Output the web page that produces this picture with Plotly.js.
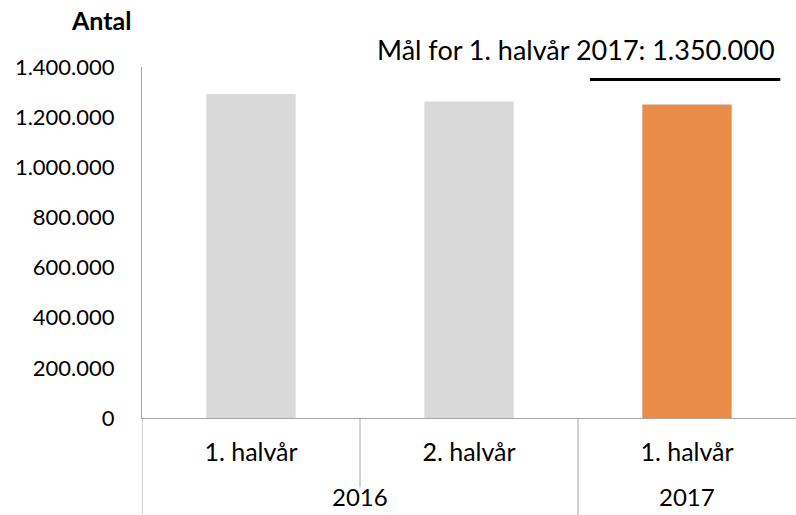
<!DOCTYPE html>
<html><head><meta charset="utf-8">
<script src="https://cdn.plot.ly/plotly-3.0.1.min.js"></script>
<style>html,body{margin:0;padding:0;background:#fff}</style>
</head><body>
<div id="chart" style="width:796px;height:515px"></div>
<script>
const years = ["2016", "2016", "2017"];
const halves = ["1. halvår", "2. halvår", "1. halvår"];
const values = [1292000, 1262000, 1250000];
const barColors = ["#d9d9d9", "#d9d9d9", "#e98c4a"];
const targetValue = [1350000];
const targetLabel = "Mål for 1. halvår 2017: 1.350.000";
const yTicks = [0, 200000, 400000, 600000, 800000, 1000000, 1200000, 1400000];

const font = "Lato, 'Open Sans', sans-serif";
const gray = "#a6a6a6";
const idx = halves.map((_, i) => i);

// year groups
const groups = [];
years.forEach((y, i) => {
  if (!groups.length || groups[groups.length - 1].year !== y) groups.push({year: y, start: i, end: i});
  else groups[groups.length - 1].end = i;
});

const shapes = [{
  type: "line", xref: "paper", yref: "y",
  x0: 0.685, x1: 0.976, y0: targetValue[0], y1: targetValue[0],
  line: {color: "#000", width: 3}
}];
// dividers
idx.forEach(i => {
  const b = i - 0.5;
  const isGroupBoundary = groups.some(g => g.start === i);
  shapes.push({
    type: "line", xref: "x", yref: "paper",
    x0: b, x1: b, y0: 0, y1: isGroupBoundary ? -0.28 : -0.197,
    line: {color: gray, width: 1}
  });
});

const annotations = [
  {text: "<b>Antal</b>", xref: "paper", yref: "paper", x: -0.063, y: 1.134,
   xanchor: "center", yanchor: "middle", showarrow: false, font: {size: 25, family: font}},
  {text: targetLabel, xref: "paper", yref: "paper", x: 0.664, y: 1.05,
   xanchor: "center", yanchor: "middle", showarrow: false, font: {size: 27, family: font}}
];
groups.forEach(g => {
  annotations.push({
    text: g.year, xref: "x", yref: "paper", x: (g.start + g.end) / 2, y: -0.225,
    xanchor: "center", yanchor: "middle", showarrow: false, font: {size: 24, family: font}
  });
});

const trace = {
  type: "bar",
  x: idx,
  y: values,
  marker: {color: barColors},
  hoverinfo: "skip"
};

const layout = {
  width: 796, height: 515,
  margin: {l: 142, r: 0, t: 67, b: 97},
  paper_bgcolor: "#fff", plot_bgcolor: "#fff",
  separators: ",.",
  bargap: 0.59,
  showlegend: false,
  font: {family: font, color: "#000", size: 22},
  xaxis: {
    range: [-0.5, 2.5],
    tickvals: idx, ticktext: halves,
    showline: true, linecolor: gray, linewidth: 1,
    ticks: "", ticklabelstandoff: 12,
    tickfont: {size: 25, family: font},
    showgrid: false, zeroline: false
  },
  yaxis: {
    range: [0, 1400000],
    tickvals: yTicks,
    tickformat: ",d",
    showline: true, linecolor: gray, linewidth: 1,
    showgrid: false, zeroline: false,
    ticks: "", ticklabelstandoff: 22,
    tickfont: {size: 22, family: font}
  },
  shapes: shapes,
  annotations: annotations
};

Plotly.newPlot("chart", [trace], layout, {displayModeBar: false, staticPlot: true});
</script>
</body></html>
